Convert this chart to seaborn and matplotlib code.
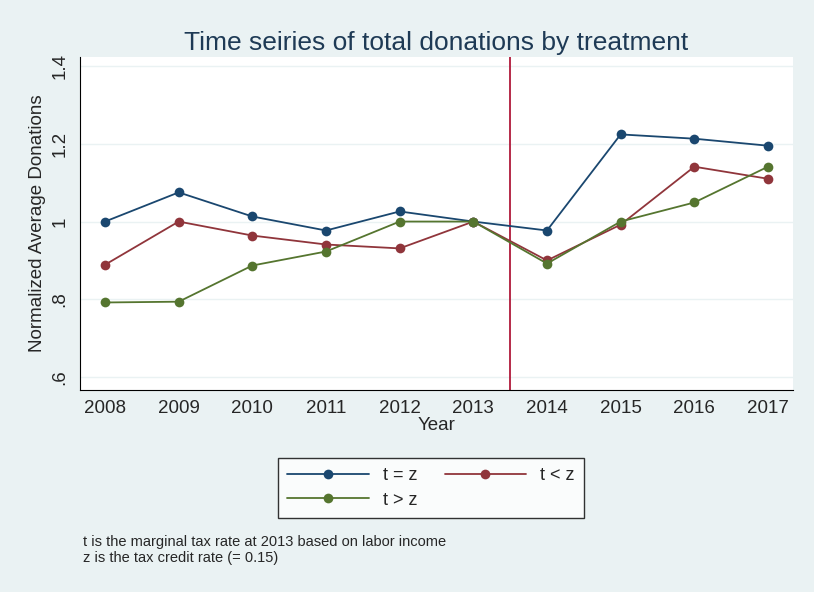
import matplotlib
matplotlib.use("Agg")
import matplotlib.pyplot as plt
import seaborn as sns
import pandas as pd

years = [2008, 2009, 2010, 2011, 2012, 2013, 2014, 2015, 2016, 2017]
t_eq_z = [1.0, 1.075, 1.013, 0.977, 1.026, 1.0, 0.977, 1.224, 1.213, 1.195]
t_lt_z = [0.889, 1.0, 0.964, 0.941, 0.931, 1.0, 0.9, 0.992, 1.141, 1.11]
t_gt_z = [0.792, 0.794, 0.887, 0.923, 1.0, 1.0, 0.892, 1.0, 1.049, 1.141]
yticks = [0.6, 0.8, 1.0, 1.2, 1.4]
ytick_labels = [".6", ".8", "1", "1.2", "1.4"]
xticks = years

sns.set_style("white")
plt.rcParams['font.family'] = ['Liberation Sans', 'DejaVu Sans']

df = pd.DataFrame({"Year": years * 3,
                   "val": t_eq_z + t_lt_z + t_gt_z,
                   "grp": ["t = z"] * 10 + ["t < z"] * 10 + ["t > z"] * 10})
colors = {"t = z": "#1a476f", "t < z": "#90353b", "t > z": "#55752f"}

W, H = 814, 592
fig = plt.figure(figsize=(W / 100, H / 100), dpi=100)
fig.patch.set_facecolor("#eaf2f3")
ax = fig.add_axes([80 / W, 1 - 390 / H, (793 - 80) / W, (390 - 57) / H])
ax.set_facecolor("white")
ax.set_ylim(0.567, 1.423)
ax.set_xlim(2007.66, 2017.34)
for y in yticks:
    ax.axhline(y, color="#eaf2f3", lw=1, zorder=0)
ax.axvline(2013.5, color="#b0193a", lw=1.3, zorder=1)
sns.lineplot(data=df, x="Year", y="val", hue="grp", palette=colors, marker="o",
             markersize=7, markeredgewidth=0, lw=1.3, ax=ax, legend=False, zorder=3)
ax.set_xticks(xticks)
ax.set_xticklabels([str(y) for y in years], fontsize=13.5)
ax.set_yticks(yticks)
ax.set_yticklabels(ytick_labels, fontsize=13.5, rotation=90, va="center")
ax.tick_params(axis="both", length=5, direction="out", color="black", width=1)
ax.tick_params(axis="x", pad=2)
ax.set_xlabel("Year", fontsize=13.5, labelpad=0)
ax.set_ylabel("Normalized Average Donations", fontsize=13.5)
for s in ["top", "right"]:
    ax.spines[s].set_visible(False)
for s in ["left", "bottom"]:
    ax.spines[s].set_color("black")
ax.set_title("Time seiries of total donations by treatment", fontsize=19, color="#1e3a55", pad=5)

from matplotlib.lines import Line2D
order = ["t = z", "t > z", "t < z"]
handles = [Line2D([], [], color=colors[k], marker="o", markersize=7, markeredgewidth=0, lw=1.3)
           for k in order]
leg = fig.legend(handles, order, ncol=2, loc="center",
                 bbox_to_anchor=(431 / W, 1 - 488 / H), fontsize=13, frameon=True,
                 fancybox=False, edgecolor="black", handlelength=4.5, columnspacing=1.5,
                 borderpad=0.5, labelspacing=0.4)
leg.get_frame().set_facecolor("white")
fig.text(83 / W, 1 - 542 / H, "t is the marginal tax rate at 2013 based on labor income", fontsize=10.5, va="center")
fig.text(83 / W, 1 - 558 / H, "z is the tax credit rate (= 0.15)", fontsize=10.5, va="center")
fig.savefig("out.png", dpi=100, facecolor=fig.get_facecolor())
